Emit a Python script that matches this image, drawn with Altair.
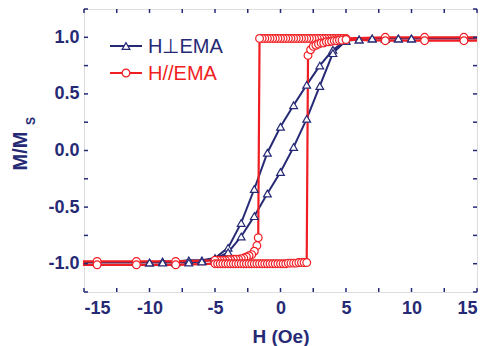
import altair as alt
import pandas as pd

NAVY = "#262a75"
RED = "#f01e23"

# H perpendicular EMA (triangles): descending branch then ascending branch
bd_x = [15, 10, 9, 8, 7, 6, 5, 4, 3, 2, 1, 0, -1, -2, -3, -4, -5, -6, -7, -8, -9, -10, -15]
bd_y = [0.99, 0.99, 0.99, 0.99, 0.99, 0.98, 0.97, 0.89, 0.75, 0.58, 0.40, 0.21, -0.02, -0.34,
        -0.64, -0.86, -0.95, -0.97, -0.97, -0.98, -0.98, -0.99, -0.99]
ba_x = [-15, -10, -9, -8, -7, -6, -5, -4, -3, -2, -1, 0, 1, 2, 3, 4, 5, 6, 7, 8, 9, 10, 15]
ba_y = [-0.99, -0.99, -0.99, -0.99, -0.99, -0.98, -0.96, -0.90, -0.76, -0.58, -0.38, -0.19,
        0.03, 0.28, 0.57, 0.86, 0.97, 0.98, 0.99, 0.99, 0.99, 0.99, 0.99]

# H // EMA (circles): descending branch then ascending branch
rd_x = [15, 14, 11, 8, 5.0, 4.8, 4.6, 4.4, 4.2, 4.0, 3.8, 3.6, 3.4, 3.2, 3.0, 2.8, 2.6, 2.4,
        2.2, 2.0, 1.8, 1.6, 1.4, 1.2, 1.0, 0.8, 0.6, 0.4, 0.2, 0.0, -0.2, -0.4, -0.6, -0.8,
        -1.0, -1.2, -1.4, -1.6, -1.7, -1.8, -2.0, -2.2, -2.4, -2.6, -2.8, -3.0, -3.2, -3.4,
        -3.6, -3.8, -4.0, -4.2, -4.4, -4.6, -4.8, -5.0, -8, -11, -14, -15]
rd_y = [1.0, 1.0, 1.0, 1.0, 0.99, 0.99, 0.99, 0.99, 0.99, 0.99, 0.99, 0.99, 0.99, 0.99, 0.99,
        0.99, 0.99, 0.99, 0.99, 0.99, 0.99, 0.99, 0.99, 0.99, 0.99, 0.99, 0.99, 0.99, 0.99,
        0.99, 0.99, 0.99, 0.99, 0.99, 0.99, 0.99, 0.99, 0.99, -0.77, -0.84, -0.89, -0.92,
        -0.93, -0.94, -0.95, -0.955, -0.96, -0.96, -0.96, -0.965, -0.965, -0.97, -0.97, -0.97,
        -0.97, -0.97, -0.98, -0.98, -0.98, -0.98]
ra_x = [-15, -14, -11, -8, -5.0, -4.8, -4.6, -4.4, -4.2, -4.0, -3.8, -3.6, -3.4, -3.2, -3.0,
        -2.8, -2.6, -2.4, -2.2, -2.0, -1.8, -1.6, -1.4, -1.2, -1.0, -0.8, -0.6, -0.4, -0.2,
        0.0, 0.2, 0.4, 0.6, 0.8, 1.0, 1.2, 1.4, 1.6, 1.8, 2.0, 2.1, 2.3, 2.5, 2.7, 2.9, 3.1,
        3.3, 3.5, 3.7, 3.9, 4.1, 4.3, 4.5, 4.7, 5.0, 8, 11, 14, 15]
ra_y = [-1.01, -1.01, -1.01, -1.01, -1.0, -1.0, -1.0, -1.0, -1.0, -1.0, -1.0, -1.0, -1.0, -1.0,
        -1.0, -1.0, -1.0, -1.0, -1.0, -1.0, -1.0, -1.0, -1.0, -1.0, -1.0, -1.0, -1.0, -1.0,
        -1.0, -1.0, -1.0, -1.0, -0.995, -0.995, -0.995, -0.995, -0.99, -0.99, -0.99, -0.99,
        0.84, 0.89, 0.92, 0.93, 0.94, 0.95, 0.95, 0.96, 0.96, 0.965, 0.97, 0.97, 0.975, 0.975,
        0.98, 0.97, 0.97, 0.97, 0.97]

series_names = ["H\u22a5EMA", "H//EMA"]
x_ticks = [-15, -12.5, -10, -7.5, -5, -2.5, 0, 2.5, 5, 7.5, 10, 12.5, 15]
y_ticks = [-1.25, -1.0, -0.75, -0.5, -0.25, 0.0, 0.25, 0.5, 0.75, 1.0, 1.25]
x_labels = [-15, -10, -5, 0, 5, 10, 15]
y_labels = [-1.0, -0.5, 0.0, 0.5, 1.0]

rows = []
def add(name, xs, ys, start):
    for i, (a, b) in enumerate(zip(xs, ys)):
        rows.append({"series": name, "order": start + i, "x": a, "y": b,
                     "marker": abs(a) < 14.5})
add(series_names[0], bd_x, bd_y, 0)
add(series_names[0], ba_x, ba_y, len(bd_x))
add(series_names[1], rd_x, rd_y, 0)
add(series_names[1], ra_x, ra_y, len(rd_x))
df = pd.DataFrame(rows)

W, H = 393, 283
FONT = "Liberation Sans"

xscale = alt.Scale(domain=[-15, 15], nice=False, zero=False)
yscale = alt.Scale(domain=[-1.25, 1.25], nice=False, zero=False)
xaxis = alt.Axis(values=x_labels, domain=False, ticks=False, grid=False,
                 labelExpr="toString(datum.value)", labelFont=FONT, labelFontSize=18,
                 labelFontWeight="bold", labelColor=NAVY, labelPadding=7,
                 title="H (Oe)", titleFont=FONT, titleFontSize=19, titleFontWeight="bold",
                 titleColor=NAVY, titlePadding=10)
yaxis = alt.Axis(values=y_labels, domain=False, ticks=False, grid=False,
                 labelExpr="replace(format(datum.value, '.1f'), '\u2212', '-')",
                 labelFont=FONT, labelFontSize=18, labelFontWeight="bold", labelColor=NAVY,
                 labelPadding=5, title=None)
X = alt.X("x:Q", scale=xscale, axis=xaxis)
Y = alt.Y("y:Q", scale=yscale, axis=yaxis)

base = alt.Chart(df)
blue = base.transform_filter(alt.datum.series == series_names[0])
red = base.transform_filter(alt.datum.series == series_names[1])

blue_line = blue.mark_line(color=NAVY, strokeWidth=2).encode(x=X, y=Y, order="order:Q")
red_line = red.mark_line(color=RED, strokeWidth=2.2).encode(x=X, y=Y, order="order:Q")
blue_pts = blue.transform_filter(alt.datum.marker).mark_point(
    shape="triangle-up", size=60, filled=True, fill="white", stroke=NAVY, strokeWidth=1.2,
    opacity=1).encode(x=X, y=Y)
red_pts = red.transform_filter(alt.datum.marker).mark_point(
    shape="circle", size=60, filled=True, fill="white", stroke=RED, strokeWidth=1.2,
    opacity=1).encode(x=X, y=Y)

xt = alt.Chart(pd.DataFrame({"x": x_ticks}))
yt = alt.Chart(pd.DataFrame({"y": y_ticks}))
tick_style = dict(color=NAVY, strokeWidth=1.5)
ticks = [
    xt.mark_rule(**tick_style).encode(x=X, y=alt.value(H), y2=alt.value(H - 4)),
    xt.mark_rule(**tick_style).encode(x=X, y=alt.value(0), y2=alt.value(4)),
    yt.mark_rule(**tick_style).encode(y=Y, x=alt.value(0), x2=alt.value(4)),
    yt.mark_rule(**tick_style).encode(y=Y, x=alt.value(W), x2=alt.value(W - 4)),
]

one = alt.Chart(pd.DataFrame({"k": [0]}))
ytitle = one.mark_text(text="M/M", font=FONT, fontSize=20, fontWeight="bold", color=NAVY,
                       angle=270, align="center", baseline="middle").encode(
    x=alt.value(-63), y=alt.value(142))
ysub = one.mark_text(text="S", font=FONT, fontSize=12, fontWeight="bold", color=NAVY,
                     angle=270, align="center", baseline="middle").encode(
    x=alt.value(-53), y=alt.value(112))

leg = []
for name, col, shape, ly in [(series_names[0], NAVY, "triangle-up", 37),
                             (series_names[1], RED, "circle", 64)]:
    leg.append(one.mark_rule(color=col, strokeWidth=2).encode(
        x=alt.value(26), x2=alt.value(58), y=alt.value(ly)))
    leg.append(one.mark_point(shape=shape, size=60, filled=True, fill="white", stroke=col,
                              strokeWidth=1.2, opacity=1).encode(
        x=alt.value(42), y=alt.value(ly)))
    leg.append(one.mark_text(text=name, font=FONT, fontSize=20, color=col, align="left",
                             baseline="middle").encode(x=alt.value(64), y=alt.value(ly + 1)))

chart = alt.layer(
    blue_line, red_line, blue_pts, red_pts, *ticks, ytitle, ysub, *leg
).properties(
    width=W, height=H,
    autosize=alt.AutoSizeParams(type="none"),
    padding={"left": 76, "top": 1, "right": 3, "bottom": 60},
).configure_view(stroke=NAVY, strokeWidth=2.5).configure(background="white")

chart.save("out.html", embed_options={"renderer": "svg", "actions": False})
